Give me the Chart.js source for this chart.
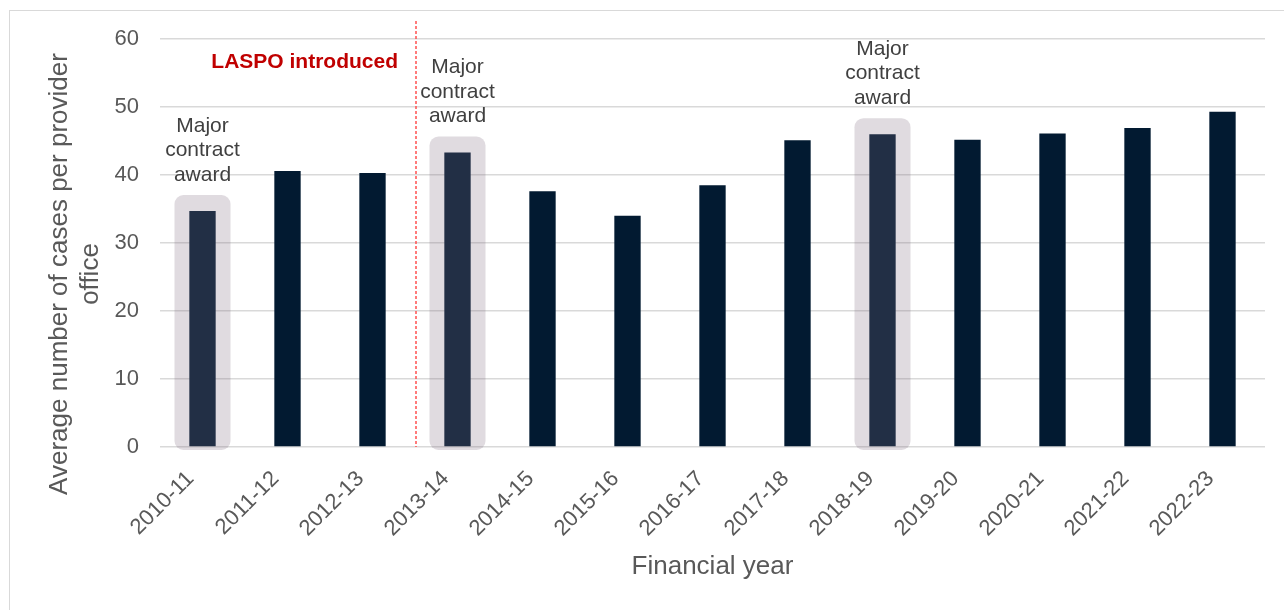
<!DOCTYPE html>
<html>
<head>
<meta charset="utf-8">
<script src="https://cdn.jsdelivr.net/npm/chart.js@4/dist/chart.umd.min.js"></script>
<style>
    body { margin: 0; background: #ffffff; }
    #wrap { position: relative; width: 1284px; height: 610px; overflow: hidden; }
    #frame { position: absolute; left: 9px; top: 10px; width: 1400px; height: 700px; border: 1px solid #d9d9d9; }
    #barChart { position: absolute; left: 0; top: 0; }
</style>
</head>
<body>
<div id="wrap">
    <div id="frame"></div>
    <canvas id="barChart" width="1284" height="610"></canvas>
</div>
<script>
// 회계연도별 사무소당 평균 사건 수
var years = ['2010-11', '2011-12', '2012-13', '2013-14', '2014-15', '2015-16', '2016-17',
    '2017-18', '2018-19', '2019-20', '2020-21', '2021-22', '2022-23'];
var casesPerOffice = [34.7, 40.6, 40.3, 43.3, 37.6, 34.0, 38.5, 45.1, 46.0, 45.2, 46.1, 46.9, 49.3];

// 주요 계약 체결 연도 (강조 박스)
var contractAwardYears = ['2010-11', '2013-14', '2018-19'];
var contractAwardText = ['Major', 'contract', 'award'];

// LASPO 시행 시점 (2012-13 과 2013-14 사이)
var laspoAfterYear = '2012-13';
var laspoText = 'LASPO introduced';

var yMin = 0, yMax = 60, yStep = 10;
var yTitleLines = ['Average number of cases per provider', 'office'];
var xTitle = 'Financial year';

var FONT = '"Liberation Sans", Arial, sans-serif';

// 강조 박스, 점선, 주석 텍스트를 그리는 플러그인
var annotationPlugin = {
    id: 'annotations',
    afterDatasetsDraw: function (chart) {
        var ctx = chart.ctx;
        var x = chart.scales.x;
        var y = chart.scales.y;
        var zeroY = y.getPixelForValue(0);

        // 계약 체결 연도 강조 박스 (반투명)
        contractAwardYears.forEach(function (yr) {
            var i = years.indexOf(yr);
            var cx = x.getPixelForValue(i);
            var top = y.getPixelForValue(casesPerOffice[i]) - 16;
            ctx.save();
            ctx.fillStyle = 'rgba(130, 110, 130, 0.25)';
            ctx.beginPath();
            ctx.roundRect(cx - 28, top, 56, zeroY + 3 - top, 9);
            ctx.fill();
            ctx.fillStyle = '#404040';
            ctx.font = '21px ' + FONT;
            ctx.textAlign = 'center';
            ctx.textBaseline = 'middle';
            for (var k = 0; k < contractAwardText.length; k++) {
                ctx.fillText(contractAwardText[k], cx, top - 20 - (contractAwardText.length - 1 - k) * 24.5);
            }
            ctx.restore();
        });

        // LASPO 점선
        var j = years.indexOf(laspoAfterYear);
        var lx = (x.getPixelForValue(j) + x.getPixelForValue(j + 1)) / 2 + 1;
        ctx.save();
        ctx.strokeStyle = '#ff5050';
        ctx.lineWidth = 1.5;
        ctx.setLineDash([3, 2]);
        ctx.beginPath();
        ctx.moveTo(lx, 21);
        ctx.lineTo(lx, zeroY);
        ctx.stroke();
        ctx.setLineDash([]);
        ctx.fillStyle = '#c00000';
        ctx.font = 'bold 21px ' + FONT;
        ctx.textAlign = 'right';
        ctx.textBaseline = 'middle';
        ctx.fillText(laspoText, lx - 18, 62);
        ctx.restore();
    },
    afterDraw: function (chart) {
        // y축 제목 (두 줄, 세로)
        var ctx = chart.ctx;
        ctx.save();
        ctx.translate(60, 274);
        ctx.rotate(-Math.PI / 2);
        ctx.fillStyle = '#595959';
        ctx.font = '26px ' + FONT;
        ctx.textAlign = 'center';
        ctx.textBaseline = 'middle';
        for (var k = 0; k < yTitleLines.length; k++) {
            ctx.fillText(yTitleLines[k], 0, k * 31);
        }
        ctx.restore();
    }
};

var chartArea = document.getElementById('barChart').getContext('2d');
var myChart = new Chart(chartArea, {
    type: 'bar',
    data: {
        labels: years,
        datasets: [{
            label: 'Average number of cases per provider office',
            data: casesPerOffice,
            backgroundColor: '#021a31',
            borderWidth: 0,
            categoryPercentage: 1,
            barPercentage: 0.31
        }]
    },
    options: {
        responsive: false,
        animation: false,
        layout: { padding: { top: 39, right: 19, bottom: 0, left: 0 } },
        plugins: {
            legend: { display: false },
            tooltip: { enabled: false }
        },
        scales: {
            x: {
                grid: { display: false, drawTicks: false },
                border: { display: false },
                ticks: {
                    color: '#595959',
                    font: { family: FONT, size: 22 },
                    minRotation: 45,
                    maxRotation: 45,
                    labelOffset: -12,
                    padding: 19
                },
                title: {
                    display: true,
                    text: xTitle,
                    color: '#595959',
                    font: { family: FONT, size: 26 },
                    padding: { top: 0, bottom: 28 }
                },
                afterFit: function (scale) { scale.height = 163; }
            },
            y: {
                min: yMin,
                max: yMax,
                grid: { color: '#d9d9d9', lineWidth: 1.5, drawTicks: false },
                border: { display: false },
                ticks: {
                    stepSize: yStep,
                    color: '#595959',
                    font: { family: FONT, size: 22 },
                    padding: 21
                },
                afterFit: function (scale) { scale.width = 160; }
            }
        }
    },
    plugins: [annotationPlugin]
});
</script>
</body>
</html>
